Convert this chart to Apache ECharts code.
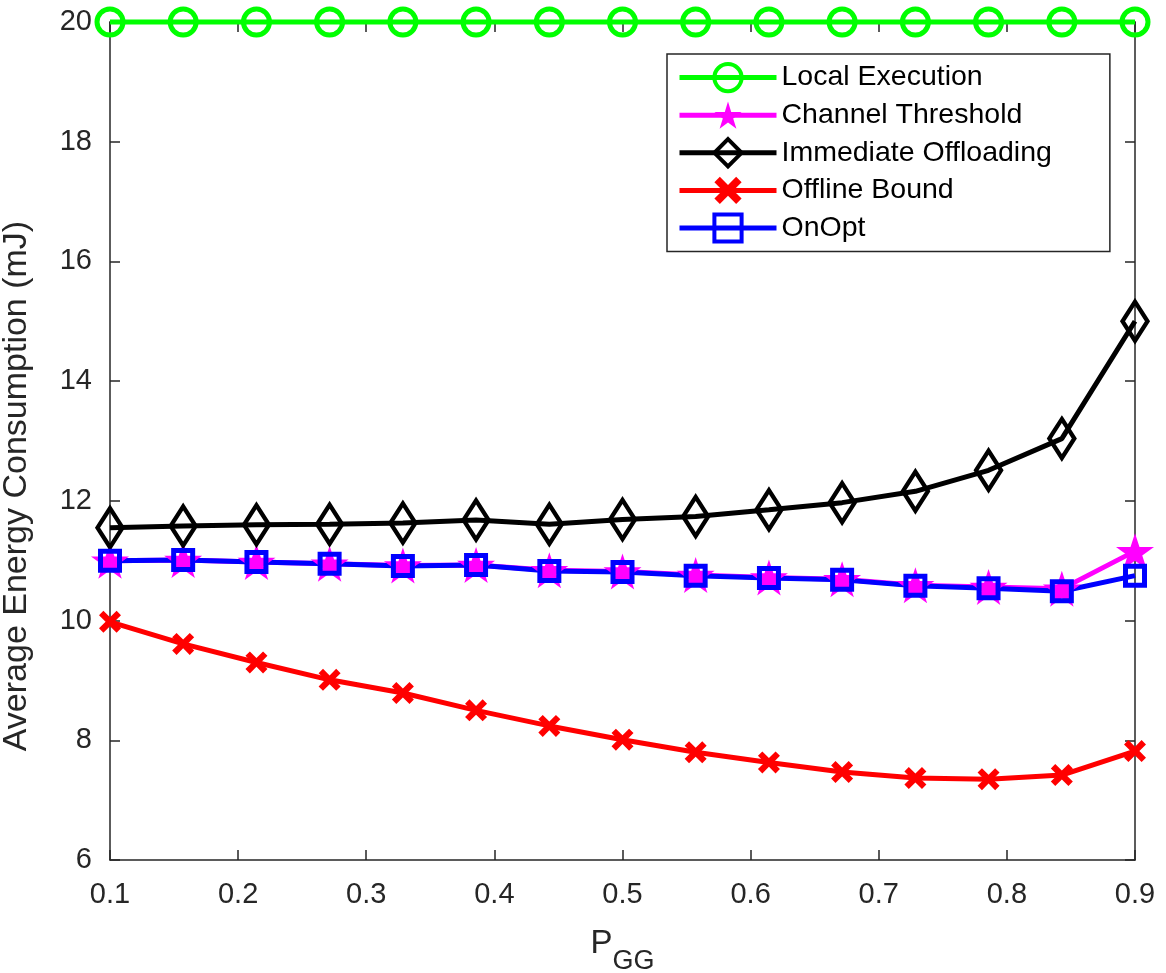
<!DOCTYPE html>
<html>
<head>
<meta charset="utf-8">
<script src="https://cdn.jsdelivr.net/npm/echarts@6/dist/echarts.min.js"></script>
<style>
html,body{margin:0;padding:0;background:#fff;}
#chart{width:1166px;height:973px;}
</style>
</head>
<body>
<div id="chart"></div>
<script>
var xValues = [0.1, 0.1571, 0.2143, 0.2714, 0.3286, 0.3857, 0.4429, 0.5, 0.5571, 0.6143, 0.6714, 0.7286, 0.7857, 0.8429, 0.9];
var localExecution = [20, 20, 20, 20, 20, 20, 20, 20, 20, 20, 20, 20, 20, 20, 20];
var channelThreshold = [11.0, 11.01, 10.98, 10.95, 10.92, 10.93, 10.84, 10.82, 10.76, 10.72, 10.69, 10.59, 10.56, 10.53, 11.16];
var immediateOffloading = [11.55, 11.58, 11.6, 11.61, 11.63, 11.68, 11.61, 11.69, 11.74, 11.85, 11.97, 12.16, 12.51, 13.04, 15.0];
var offlineBound = [9.98, 9.61, 9.3, 9.01, 8.79, 8.5, 8.24, 8.01, 7.8, 7.63, 7.47, 7.37, 7.35, 7.42, 7.82];
var onOpt = [11.0, 11.01, 10.98, 10.95, 10.91, 10.93, 10.83, 10.81, 10.75, 10.71, 10.68, 10.58, 10.54, 10.49, 10.75];
var xTicks = [0.1, 0.2, 0.3, 0.4, 0.5, 0.6, 0.7, 0.8, 0.9];
var yTicks = [6, 8, 10, 12, 14, 16, 18, 20];

function pairs(ys) { return ys.map(function (y, i) { return [xValues[i], y]; }); }

var starPath = 'path://M50,0 L61.23,34.55 L97.55,34.55 L68.16,55.9 L79.39,90.45 L50,69.1 L20.61,90.45 L31.84,55.9 L2.45,34.55 L38.77,34.55 Z';
var crossPath = 'path://M0,4 L4,0 L10,6 L16,0 L20,4 L14,10 L20,16 L16,20 L10,14 L4,20 L0,16 L6,10 Z';

var axisColor = '#262626';
var font = 'Liberation Sans, Arial, Helvetica, sans-serif';

var chart = echarts.init(document.getElementById('chart'), null, {renderer: 'canvas'});

function mkSeries(name, data, color, symbol, size, hollow, bw) {
  return {
    name: name,
    type: 'line',
    data: pairs(data),
    clip: false,
    symbol: symbol,
    symbolSize: size,
    showAllSymbol: true,
    lineStyle: {color: color, width: 5},
    itemStyle: hollow ? {color: 'rgba(0,0,0,0)', borderColor: color, borderWidth: bw} : {color: color, borderWidth: 0},
    emphasis: {disabled: true},
    animation: false
  };
}

function legendItem(name, color, hollow) {
  return {
    name: name,
    lineStyle: {width: 5, color: color},
    itemStyle: hollow ? {color: 'rgba(0,0,0,0)', borderColor: color, borderWidth: 4} : {color: color, borderWidth: 0}
  };
}

var option = {
  backgroundColor: '#fff',
  animation: false,
  textStyle: {fontFamily: font},
  grid: {left: 110, right: 31, top: 22, bottom: 113, containLabel: false, outerBoundsMode: 'none'},
  legend: {
    orient: 'vertical',
    left: 667,
    top: 54,
    padding: [8, 58, 8, 10],
    itemWidth: 97,
    itemHeight: 34,
    itemGap: 7.5,
    backgroundColor: '#fff',
    borderColor: axisColor,
    borderWidth: 1.5,
    borderRadius: 0,
    textStyle: {fontSize: 28.5, color: '#000', fontFamily: font},
    data: [
      legendItem('Local Execution', '#00ff00', true),
      legendItem('Channel Threshold', '#ff00ff', false),
      legendItem('Immediate Offloading', '#000000', true),
      legendItem('Offline Bound', '#ff0000', false),
      legendItem('OnOpt', '#0000ff', true)
    ]
  },
  xAxis: [{
    type: 'value',
    min: 0.1, max: 0.9, interval: 0.1,
    name: '{a|P}{b|GG}',
    nameLocation: 'middle',
    nameGap: 64,
    nameTextStyle: {
      rich: {
        a: {fontSize: 33, color: axisColor, fontFamily: font, verticalAlign: 'bottom', lineHeight: 36},
        b: {fontSize: 27, color: axisColor, fontFamily: font, verticalAlign: 'bottom', lineHeight: 36, padding: [0, 0, -15, 0]}
      }
    },
    axisLine: {show: true, lineStyle: {color: axisColor, width: 1.5}},
    axisTick: {show: true, inside: true, length: 10, lineStyle: {color: axisColor, width: 1.5}},
    axisLabel: {fontSize: 29, color: axisColor, margin: 20, fontFamily: font, formatter: function (v) { return v.toFixed(1); }},
    splitLine: {show: false}
  }, {
    type: 'value', position: 'top',
    min: 0.1, max: 0.9, interval: 0.1,
    axisLine: {show: true, onZero: false, lineStyle: {color: axisColor, width: 1.5}},
    axisTick: {show: true, inside: true, length: 10, lineStyle: {color: axisColor, width: 1.5}},
    axisLabel: {show: false},
    splitLine: {show: false}
  }],
  yAxis: [{
    type: 'value',
    min: 6, max: 20, interval: 2,
    name: 'Average Energy Consumption (mJ)',
    nameLocation: 'middle',
    nameGap: 76,
    nameTextStyle: {fontSize: 34, color: axisColor, fontFamily: font, padding: [0, 90, 0, 0]},
    axisLine: {show: true, lineStyle: {color: axisColor, width: 1.5}},
    axisTick: {show: true, inside: true, length: 10, lineStyle: {color: axisColor, width: 1.5}},
    axisLabel: {fontSize: 29, color: axisColor, margin: 18, fontFamily: font},
    splitLine: {show: false}
  }, {
    type: 'value', position: 'right',
    min: 6, max: 20, interval: 2,
    axisLine: {show: true, onZero: false, lineStyle: {color: axisColor, width: 1.5}},
    axisTick: {show: true, inside: true, length: 10, lineStyle: {color: axisColor, width: 1.5}},
    axisLabel: {show: false},
    splitLine: {show: false}
  }],
  series: [
    mkSeries('Local Execution', localExecution, '#00ff00', 'circle', 26, true, 5),
    mkSeries('Channel Threshold', channelThreshold, '#ff00ff', starPath, [38, 36], false, 0),
    mkSeries('Immediate Offloading', immediateOffloading, '#000000', 'diamond', [25, 39], true, 4.5),
    mkSeries('Offline Bound', offlineBound, '#ff0000', crossPath, 22, false, 0),
    mkSeries('OnOpt', onOpt, '#0000ff', 'rect', 19, true, 5)
  ]
};
chart.setOption(option);
</script>
</body>
</html>
